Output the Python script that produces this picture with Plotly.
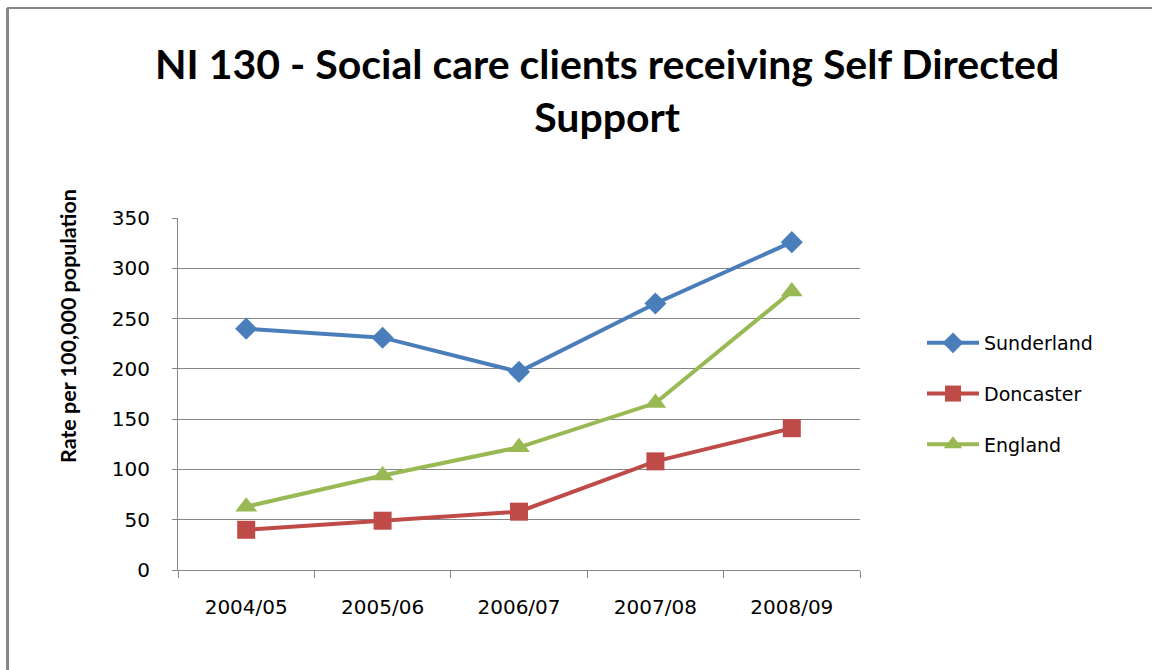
import plotly.graph_objects as go

# Financial years on the category axis
years = ["2004/05", "2005/06", "2006/07", "2007/08", "2008/09"]

# Rate per 100,000 population
sunderland = [240, 231, 197, 265, 326]
doncaster = [40, 49, 58, 108, 141]
england = [63, 94, 122, 166, 277]

series = [
    ("Sunderland", sunderland, "#4A7EBB", "diamond", 17),
    ("Doncaster", doncaster, "#BE4B48", "square", 18),
    ("England", england, "#98B954", "triangle-up", 19),
]

fig = go.Figure()
for name, values, color, symbol, size in series:
    fig.add_trace(go.Scatter(
        x=years, y=values, name=name, legendgroup=name, mode="lines+markers",
        line=dict(color=color, width=4),
        marker=dict(symbol=symbol, size=size, color=color),
    ))

W, H = 1152, 670
L, R, T, B = 178, 292, 218, 100
pw, ph = W - L - R, H - T - B


def px_x(px):
    return (px - L) / pw


def px_y(py):
    return (H - B - py) / ph


tick_font = dict(family="DejaVu Sans, sans-serif", size=20, color="#000000")

fig.update_layout(
    width=W, height=H,
    margin=dict(l=L, r=R, t=T, b=B),
    paper_bgcolor="white", plot_bgcolor="white",
    font=dict(family="DejaVu Sans, sans-serif", color="#000000"),
    title=dict(
        text="<b>NI 130 - Social care clients receiving Self Directed<br>Support</b>",
        x=0.527, xanchor="center", y=0.882, yanchor="middle",
        font=dict(family="Lato, sans-serif", size=41, color="#000000"),
    ),
    legend=dict(
        x=px_x(922), y=px_y(324), xanchor="left", yanchor="top",
        font=dict(family="DejaVu Sans, sans-serif", size=19, color="#000000"),
        tracegroupgap=23, itemwidth=52,
        bgcolor="rgba(0,0,0,0)",
    ),
    showlegend=True,
)

fig.update_xaxes(
    type="category", tickson="boundaries",
    showline=True, linecolor="#868686", linewidth=1,
    ticks="outside", ticklen=7, tickcolor="#868686",
    ticklabelstandoff=19,
    showgrid=False,
    tickfont=tick_font,
    range=[-0.5, 4.5],
)
fig.update_yaxes(
    range=[0, 350], dtick=50,
    showline=True, linecolor="#868686", linewidth=1,
    ticks="outside", ticklen=5, tickcolor="#868686",
    ticklabelstandoff=18,
    showgrid=True, gridcolor="#868686", gridwidth=1,
    zeroline=False,
    tickfont=tick_font,
)

# Vertical axis title, set higher than the plot centre
fig.add_annotation(
    text="<b>Rate per 100,000 population</b>", textangle=-90,
    xref="paper", yref="paper", x=px_x(68), y=px_y(326),
    xanchor="center", yanchor="middle", showarrow=False,
    font=dict(family="Lato, sans-serif", size=21.5, color="#000000"),
)

# Outer frame: top and left edges only
fig.add_shape(type="line", xref="paper", yref="paper",
              x0=px_x(7), x1=px_x(1152), y0=px_y(8), y1=px_y(8),
              line=dict(color="#868686", width=2))
fig.add_shape(type="line", xref="paper", yref="paper",
              x0=px_x(7.5), x1=px_x(7.5), y0=px_y(8), y1=px_y(670),
              line=dict(color="#868686", width=3))

fig.write_html("out.html")
